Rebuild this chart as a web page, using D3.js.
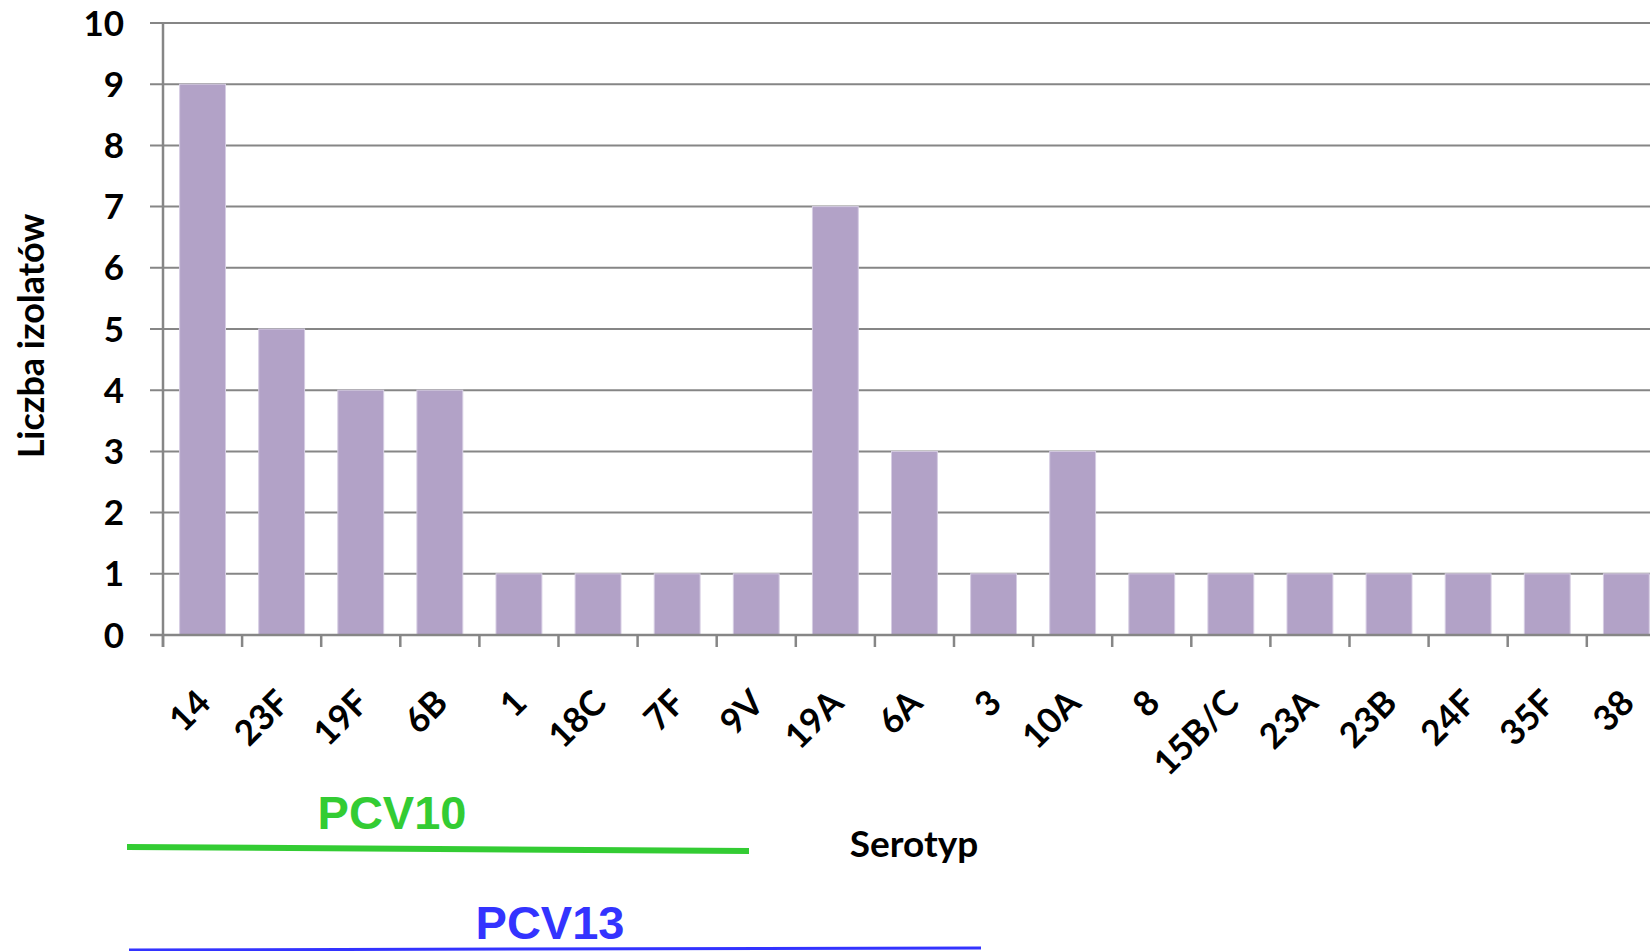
<!DOCTYPE html>
<html>
<head>
<meta charset="utf-8">
<script src="https://cdn.jsdelivr.net/npm/d3@7/dist/d3.min.js"></script>
<style>
  body { margin: 0; background: #fff; overflow: hidden; }
  svg { display: block; }
  .lbl { font-family: Lato, "Open Sans", sans-serif; font-weight: bold; fill: #000; }
</style>
</head>
<body>
<div id="chart"></div>
<script>
// serotypes and number of isolates
var serotypes = ['14', '23F', '19F', '6B', '1', '18C', '7F', '9V', '19A', '6A', '3', '10A', '8', '15B/C', '23A', '23B', '24F', '35F', '38'];
var isolates = [9, 5, 4, 4, 1, 1, 1, 1, 7, 3, 1, 3, 1, 1, 1, 1, 1, 1, 1];
var yTicks = [0, 1, 2, 3, 4, 5, 6, 7, 8, 9, 10];

var width = 1650, height = 951;
var left = 163, step = 79.1;

var svg = d3.select('#chart').append('svg')
    .attr('width', width)
    .attr('height', height);

var x = d3.scaleBand()
    .domain(serotypes)
    .range([left, left + serotypes.length * step])
    .paddingInner(0.42)
    .paddingOuter(0.21);

var y = d3.scaleLinear()
    .domain([0, 10])
    .range([635, 23]);

// gridlines
svg.append('g').selectAll('line')
    .data(yTicks)
    .enter().append('line')
    .attr('x1', 150).attr('x2', width)
    .attr('y1', d => y(d)).attr('y2', d => y(d))
    .attr('stroke', '#868686')
    .attr('stroke-width', 2);

// y tick labels
svg.append('g').selectAll('text')
    .data(yTicks)
    .enter().append('text')
    .attr('class', 'lbl')
    .attr('x', 124)
    .attr('y', d => y(d))
    .attr('dy', '0.36em')
    .attr('text-anchor', 'end')
    .style('font-size', '35px')
    .text(d => d);

// bars
svg.append('g').selectAll('rect')
    .data(isolates)
    .enter().append('rect')
    .attr('x', (d, i) => x(serotypes[i]))
    .attr('y', d => y(d))
    .attr('width', x.bandwidth())
    .attr('height', d => y(0) - y(d))
    .attr('fill', '#b2a2c7')
    .attr('stroke', '#d6cde3')
    .attr('stroke-width', 1);

// y axis line
svg.append('line')
    .attr('x1', left).attr('x2', left)
    .attr('y1', y(10)).attr('y2', y(0) + 12)
    .attr('stroke', '#868686')
    .attr('stroke-width', 2.5);

// x axis line + ticks between categories
svg.append('line')
    .attr('x1', 150).attr('x2', width)
    .attr('y1', y(0)).attr('y2', y(0))
    .attr('stroke', '#868686')
    .attr('stroke-width', 2.5);

svg.append('g').selectAll('line')
    .data(d3.range(serotypes.length + 1))
    .enter().append('line')
    .attr('x1', i => left + i * x.step())
    .attr('x2', i => left + i * x.step())
    .attr('y1', y(0)).attr('y2', y(0) + 12)
    .attr('stroke', '#868686')
    .attr('stroke-width', 2.5);

// x labels, rotated
svg.append('g').selectAll('text')
    .data(serotypes)
    .enter().append('text')
    .attr('class', 'lbl')
    .attr('text-anchor', 'end')
    .style('font-size', '35px')
    .attr('transform', d => 'translate(' + (x(d) + x.bandwidth() / 2 + 10) + ',705) rotate(-45)')
    .text(d => d);

// axis titles
svg.append('text')
    .attr('class', 'lbl')
    .attr('text-anchor', 'middle')
    .style('font-size', '36px')
    .attr('transform', 'translate(44,336) rotate(-90)')
    .text('Liczba izolatów');

svg.append('text')
    .attr('class', 'lbl')
    .attr('x', 914).attr('y', 857)
    .attr('text-anchor', 'middle')
    .style('font-size', '37px')
    .text('Serotyp');

// vaccine coverage annotations
svg.append('text')
    .attr('x', 392).attr('y', 829)
    .attr('text-anchor', 'middle')
    .style('font-family', '"Liberation Sans", Arial, sans-serif')
    .style('font-weight', 'bold')
    .style('font-size', '47px')
    .attr('fill', '#33cc33')
    .text('PCV10');

svg.append('line')
    .attr('x1', 127).attr('y1', 847)
    .attr('x2', 749).attr('y2', 851)
    .attr('stroke', '#33cc33')
    .attr('stroke-width', 6);

svg.append('text')
    .attr('x', 550).attr('y', 939)
    .attr('text-anchor', 'middle')
    .style('font-family', '"Liberation Sans", Arial, sans-serif')
    .style('font-weight', 'bold')
    .style('font-size', '47px')
    .attr('fill', '#3333ff')
    .text('PCV13');

svg.append('line')
    .attr('x1', 129).attr('y1', 950)
    .attr('x2', 981).attr('y2', 948)
    .attr('stroke', '#3333ff')
    .attr('stroke-width', 3);
</script>
</body>
</html>
